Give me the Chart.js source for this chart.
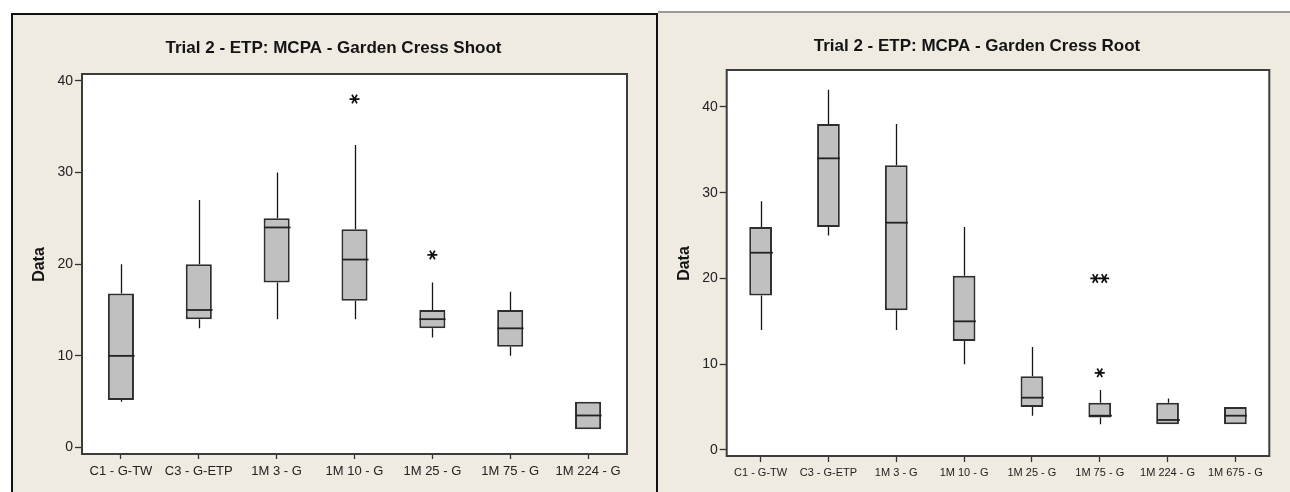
<!DOCTYPE html>
<html>
<head>
<meta charset="utf-8">
<script src="https://cdn.jsdelivr.net/npm/chart.js@4/dist/chart.umd.min.js"></script>
<style>
  html, body { margin: 0; padding: 0; background: #ffffff; width: 1290px; height: 492px; overflow: hidden; }
  .panel { position: absolute; background: #efebe1; box-sizing: border-box; }
  #panelShoot { left: 11px; top: 13px; width: 647px; height: 479px; border-left: 2px solid #111; border-top: 2px solid #111; border-right: 2px solid #111; }
  #panelRoot { left: 658px; top: 11px; width: 632px; height: 481px; border-top: 2px solid #9b9b96; }
  canvas { position: absolute; }
  #shootChart { left: 12px; top: 14px; }
  #rootChart { left: 658px; top: 12px; }
</style>
</head>
<body>
<div class="panel" id="panelShoot"></div>
<div class="panel" id="panelRoot"></div>
<canvas id="shootChart" width="645" height="478"></canvas>
<canvas id="rootChart" width="632" height="480"></canvas>
<script>
// ---- Garden cress shoot (7 treatments) ----
const shootCategories = ['C1 - G-TW', 'C3 - G-ETP', '1M 3 - G', '1M 10 - G', '1M 25 - G', '1M 75 - G', '1M 224 - G'];
const shootMin    = [5,    13, 14, 14,   12, 10, 2];
const shootQ1     = [5.2,  14, 18, 16,   13, 11, 2];
const shootMedian = [10,   15, 24, 20.5, 14, 13, 3.5];
const shootQ3     = [16.8, 20, 25, 23.8, 15, 15, 5];
const shootMax    = [20,   27, 30, 33,   18, 17, 5];
const shootOutliers = [[], [], [], [38], [21], [], []];

// ---- Garden cress root (8 treatments) ----
const rootCategories = ['C1 - G-TW', 'C3 - G-ETP', '1M 3 - G', '1M 10 - G', '1M 25 - G', '1M 75 - G', '1M 224 - G', '1M 675 - G'];
const rootMin    = [14, 25, 14,   10,   4,   3,   3,   3];
const rootQ1     = [18, 26, 16.3, 12.7, 5,   3.8, 3,   3];
const rootMedian = [23, 34, 26.5, 15,   6.1, 4,   3.5, 4];
const rootQ3     = [26, 38, 33.2, 20.3, 8.6, 5.5, 5.5, 5];
const rootMax    = [29, 42, 38,   26,   12,  7,   6,   5];
const rootOutliers = [[], [], [], [], [], [20, 20, 9], [], []];

const yTicks = [0, 10, 20, 30, 40];

const FONT = '"Liberation Sans", Arial, sans-serif';

function drawAsterisk(ctx, x, y, r) {
  ctx.beginPath();
  for (let k = 0; k < 3; k++) {
    const a = k * Math.PI / 3;
    ctx.moveTo(x - r * Math.cos(a), y - r * Math.sin(a));
    ctx.lineTo(x + r * Math.cos(a), y + r * Math.sin(a));
  }
  ctx.stroke();
}

// White plot area, frame, chart title and y-axis title
const panelText = {
  id: 'panelText',
  beforeDraw(chart) {
    const { ctx, chartArea: a } = chart;
    ctx.save();
    ctx.fillStyle = '#ffffff';
    ctx.fillRect(a.left, a.top, a.right - a.left, a.bottom - a.top);
    ctx.restore();
  },
  afterDraw(chart, args, o) {
    const { ctx, chartArea: a } = chart;
    ctx.save();
    ctx.strokeStyle = '#3c3c3c';
    ctx.lineWidth = 2;
    ctx.strokeRect(a.left, a.top, a.right - a.left, a.bottom - a.top);
    ctx.fillStyle = '#141414';
    ctx.textAlign = 'center';
    ctx.textBaseline = 'middle';
    ctx.font = 'bold 17px ' + FONT;
    ctx.fillText(o.title, o.titleX, o.titleY);
    ctx.translate(o.labelX, o.labelY);
    ctx.rotate(-Math.PI / 2);
    ctx.font = 'bold 16px ' + FONT;
    ctx.fillText('Data', 0, 0);
    ctx.restore();
  }
};

// Whiskers, medians and outlier asterisks on top of the Q1–Q3 boxes
const boxWhiskers = {
  id: 'boxWhiskers',
  afterDatasetsDraw(chart, args, s) {
    const { ctx } = chart;
    const y = chart.scales.y;
    const meta = chart.getDatasetMeta(0);
    ctx.save();
    ctx.lineCap = 'butt';
    meta.data.forEach((bar, i) => {
      const cx = Math.round(bar.x) + 0.5;
      const half = bar.width / 2;
      ctx.strokeStyle = '#151515';
      ctx.lineWidth = 1.3;
      ctx.beginPath();
      ctx.moveTo(cx, y.getPixelForValue(s.q3[i]));
      ctx.lineTo(cx, y.getPixelForValue(s.max[i]));
      ctx.moveTo(cx, y.getPixelForValue(s.q1[i]));
      ctx.lineTo(cx, y.getPixelForValue(s.min[i]));
      ctx.stroke();
      ctx.lineWidth = 1.8;
      ctx.strokeStyle = '#222';
      const ym = y.getPixelForValue(s.median[i]);
      ctx.beginPath();
      ctx.moveTo(cx - half, ym);
      ctx.lineTo(cx + half, ym);
      ctx.stroke();
      // repeated outlier values are set side by side
      ctx.strokeStyle = '#111';
      ctx.lineWidth = 1.7;
      const vals = s.outliers[i];
      const counts = {};
      vals.forEach(v => { counts[v] = (counts[v] || 0) + 1; });
      const seen = {};
      vals.forEach(v => {
        const n = counts[v];
        const k = seen[v] = (seen[v] === undefined ? 0 : seen[v] + 1);
        const dx = (k - (n - 1) / 2) * 9;
        drawAsterisk(ctx, bar.x + dx, y.getPixelForValue(v), 5);
      });
    });
    ctx.restore();
  }
};

function boxChart(id, cfg) {
  return new Chart(document.getElementById(id), {
    type: 'bar',
    data: {
      labels: cfg.labels,
      datasets: [{
        data: cfg.q1.map((v, i) => [v, cfg.q3[i]]),
        backgroundColor: '#c0c0c0',
        borderColor: '#2e2e2e',
        borderWidth: 2,
        borderSkipped: false,
        barPercentage: 0.335,
        categoryPercentage: 1
      }]
    },
    options: {
      responsive: false,
      animation: false,
      devicePixelRatio: 1,
      layout: { padding: cfg.padding },
      plugins: {
        legend: { display: false },
        tooltip: { enabled: false },
        title: { display: false },
        panelText: cfg.text,
        boxWhiskers: { min: cfg.min, q1: cfg.q1, median: cfg.median, q3: cfg.q3, max: cfg.max, outliers: cfg.outliers }
      },
      scales: {
        x: {
          offset: true,
          grid: { offset: false, drawOnChartArea: false, drawTicks: true, tickLength: cfg.xTick, tickColor: '#333', tickWidth: 1.3 },
          border: { display: false },
          ticks: { font: { family: FONT, size: cfg.xFont }, color: '#222', padding: cfg.xPad, maxRotation: 0, autoSkip: false },
          afterFit(sc) { sc.height = cfg.xHeight; }
        },
        y: {
          min: cfg.yMin,
          max: cfg.yMax,
          grid: { drawOnChartArea: false, drawTicks: true, tickLength: 7, tickColor: '#333', tickWidth: 1.3 },
          border: { display: false },
          ticks: { font: { family: FONT, size: 14 }, color: '#222', padding: 2 },
          afterBuildTicks(sc) { sc.ticks = yTicks.map(v => ({ value: v })); },
          afterFit(sc) { sc.width = cfg.yWidth; }
        }
      }
    },
    plugins: [panelText, boxWhiskers]
  });
}

boxChart('shootChart', {
  labels: shootCategories,
  min: shootMin, q1: shootQ1, median: shootMedian, q3: shootQ3, max: shootMax, outliers: shootOutliers,
  yMin: -0.7, yMax: 40.73,
  padding: { left: 0, top: 60, right: 30, bottom: 0 },
  yWidth: 70, xHeight: 38, xTick: 5, xFont: 13, xPad: 5,
  text: { title: 'Trial 2 - ETP: MCPA - Garden Cress Shoot', titleX: 321.5, titleY: 34, labelX: 27.5, labelY: 250.5 }
});

boxChart('rootChart', {
  labels: rootCategories,
  min: rootMin, q1: rootQ1, median: rootMedian, q3: rootQ3, max: rootMax, outliers: rootOutliers,
  yMin: -0.7, yMax: 44.3,
  padding: { left: 0, top: 58, right: 20.7, bottom: 0 },
  yWidth: 68.7, xHeight: 36, xTick: 6, xFont: 11, xPad: 4,
  text: { title: 'Trial 2 - ETP: MCPA - Garden Cress Root', titleX: 319, titleY: 34, labelX: 26.5, labelY: 251.5 }
});
</script>
</body>
</html>
